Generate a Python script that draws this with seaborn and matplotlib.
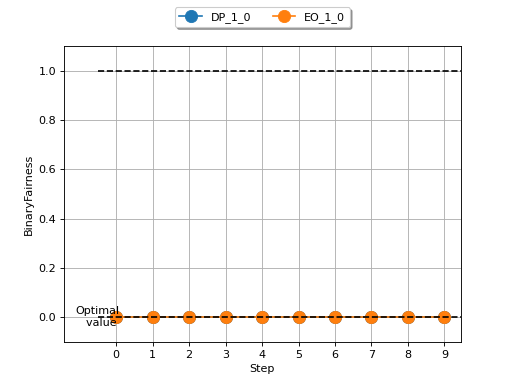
import matplotlib
matplotlib.use("Agg")
import matplotlib.pyplot as plt
import seaborn as sns
import pandas as pd

steps = [0, 1, 2, 3, 4, 5, 6, 7, 8, 9]
dp_values = [0.0, 0.0, 0.0, 0.0, 0.0, 0.0, 0.0, 0.0, 0.0, 0.0]
eo_values = [0.0, 0.0, 0.0, 0.0, 0.0, 0.0, 0.0, 0.0, 0.0, 0.0]
optimal_lines = [0.0, 1.0]

fig, ax = plt.subplots(figsize=(6.4, 4.8), dpi=80)

df = pd.DataFrame({"Step": steps, "DP_1_0": dp_values, "EO_1_0": eo_values})
sns.lineplot(data=df, x="Step", y="DP_1_0", ax=ax, marker="o", markersize=11,
             markeredgecolor="#1f77b4", color="#1f77b4", label="DP_1_0")
sns.lineplot(data=df, x="Step", y="EO_1_0", ax=ax, marker="o", markersize=11,
             markeredgecolor="#ff7f0e", color="#ff7f0e", label="EO_1_0")

for yv in optimal_lines:
    ax.hlines(yv, -0.5, 9.6, colors="black", linestyles="--", zorder=3)

ax.text(-0.5, 0.0, "Optimal\nvalue ", ha="center", va="center", multialignment="right")

ax.set_xlim(-1.43, 9.45)
ax.set_ylim(-0.1, 1.1)
ax.set_xticks(steps)
ax.set_xlabel("Step")
ax.set_ylabel("BinaryFairness")
ax.grid(True)
ax.legend(loc="upper center", bbox_to_anchor=(0.5, 1.15), ncol=2, shadow=True, fancybox=True)

fig.savefig("out.png", dpi=80)
